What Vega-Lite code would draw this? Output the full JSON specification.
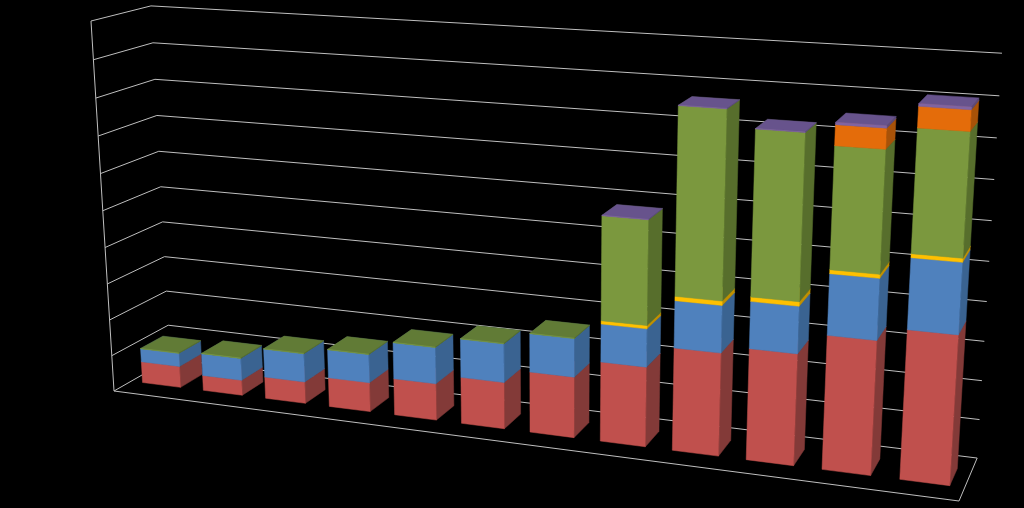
{"$schema":"https://vega.github.io/schema/vega-lite/v6.json","width":1024,"height":508,"padding":0,"autosize":{"type":"none"},"background":"#000000","config":{"view":{"stroke":null}},
"datasets":{
"frame":[
{"line":"g0","seq":0,"pos":0,"level":0,"depth":0},{"line":"g0","seq":1,"pos":0,"level":0,"depth":1},{"line":"g0","seq":2,"pos":12,"level":0,"depth":1},
{"line":"g1","seq":0,"pos":0,"level":10,"depth":0},{"line":"g1","seq":1,"pos":0,"level":10,"depth":1},{"line":"g1","seq":2,"pos":12,"level":10,"depth":1},
{"line":"g2","seq":0,"pos":0,"level":20,"depth":0},{"line":"g2","seq":1,"pos":0,"level":20,"depth":1},{"line":"g2","seq":2,"pos":12,"level":20,"depth":1},
{"line":"g3","seq":0,"pos":0,"level":30,"depth":0},{"line":"g3","seq":1,"pos":0,"level":30,"depth":1},{"line":"g3","seq":2,"pos":12,"level":30,"depth":1},
{"line":"g4","seq":0,"pos":0,"level":40,"depth":0},{"line":"g4","seq":1,"pos":0,"level":40,"depth":1},{"line":"g4","seq":2,"pos":12,"level":40,"depth":1},
{"line":"g5","seq":0,"pos":0,"level":50,"depth":0},{"line":"g5","seq":1,"pos":0,"level":50,"depth":1},{"line":"g5","seq":2,"pos":12,"level":50,"depth":1},
{"line":"g6","seq":0,"pos":0,"level":60,"depth":0},{"line":"g6","seq":1,"pos":0,"level":60,"depth":1},{"line":"g6","seq":2,"pos":12,"level":60,"depth":1},
{"line":"g7","seq":0,"pos":0,"level":70,"depth":0},{"line":"g7","seq":1,"pos":0,"level":70,"depth":1},{"line":"g7","seq":2,"pos":12,"level":70,"depth":1},
{"line":"g8","seq":0,"pos":0,"level":80,"depth":0},{"line":"g8","seq":1,"pos":0,"level":80,"depth":1},{"line":"g8","seq":2,"pos":12,"level":80,"depth":1},
{"line":"g9","seq":0,"pos":0,"level":90,"depth":0},{"line":"g9","seq":1,"pos":0,"level":90,"depth":1},{"line":"g9","seq":2,"pos":12,"level":90,"depth":1},
{"line":"g10","seq":0,"pos":0,"level":100,"depth":0},{"line":"g10","seq":1,"pos":0,"level":100,"depth":1},{"line":"g10","seq":2,"pos":12,"level":100,"depth":1},
{"line":"left","seq":0,"pos":0,"level":0,"depth":0},{"line":"left","seq":1,"pos":0,"level":100,"depth":0},
{"line":"floor","seq":0,"pos":0,"level":0,"depth":0},{"line":"floor","seq":1,"pos":12,"level":0,"depth":0},{"line":"floor","seq":2,"pos":12,"level":0,"depth":1}
],
"bars":[
{"cat":1,"series":"S1","value":5.96},{"cat":1,"series":"S2","value":3.71},{"cat":1,"series":"S4","value":0.1},
{"cat":2,"series":"S1","value":4.23},{"cat":2,"series":"S2","value":6.14},{"cat":2,"series":"S4","value":0.1},
{"cat":3,"series":"S1","value":5.96},{"cat":3,"series":"S2","value":7.81},{"cat":3,"series":"S4","value":0.1},
{"cat":4,"series":"S1","value":7.96},{"cat":4,"series":"S2","value":7.71},{"cat":4,"series":"S4","value":0.1},
{"cat":5,"series":"S1","value":9.89},{"cat":5,"series":"S2","value":9.78},{"cat":5,"series":"S4","value":0.1},
{"cat":6,"series":"S1","value":12.44},{"cat":6,"series":"S2","value":10.28},{"cat":6,"series":"S4","value":0.1},
{"cat":7,"series":"S1","value":16.07},{"cat":7,"series":"S2","value":10.1},{"cat":7,"series":"S4","value":0.1},
{"cat":8,"series":"S1","value":20.86},{"cat":8,"series":"S2","value":9.86},{"cat":8,"series":"S3","value":0.84},{"cat":8,"series":"S4","value":26.68},{"cat":8,"series":"S6","value":0.1},
{"cat":9,"series":"S1","value":26.59},{"cat":9,"series":"S2","value":12.04},{"cat":9,"series":"S3","value":1.09},{"cat":9,"series":"S4","value":46.92},{"cat":9,"series":"S6","value":0.1},
{"cat":10,"series":"S1","value":28.5},{"cat":10,"series":"S2","value":11.87},{"cat":10,"series":"S3","value":1.1},{"cat":10,"series":"S4","value":40.89},{"cat":10,"series":"S6","value":0.1},
{"cat":11,"series":"S1","value":33.9},{"cat":11,"series":"S2","value":15.18},{"cat":11,"series":"S3","value":0.97},{"cat":11,"series":"S4","value":29.7},{"cat":11,"series":"S5","value":4.93},{"cat":11,"series":"S6","value":0.55},
{"cat":12,"series":"S1","value":37.33},{"cat":12,"series":"S2","value":17.41},{"cat":12,"series":"S3","value":0.95},{"cat":12,"series":"S4","value":29.54},{"cat":12,"series":"S5","value":4.97},{"cat":12,"series":"S6","value":0.63}
]},
"layer":[
{"data":{"name":"frame"},
"transform":[
{"calculate":"datum.pos/12","as":"u"},{"calculate":"datum.level/100","as":"v"},{"calculate":"datum.depth","as":"d"},
{"calculate":"1-0.14*datum.u-0.05*datum.v+0.05*datum.d","as":"w"},
{"calculate":"(114+710.74*datum.u-27.55*datum.v+64.5*datum.d)/datum.w","as":"px"},
{"calculate":"(391+39.86*datum.u-371.05*datum.v-14.05*datum.d)/datum.w","as":"py"}
],
"mark":{"type":"line","stroke":"#BFBFBF","strokeWidth":1,"interpolate":"linear"},
"encoding":{
"x":{"field":"px","type":"quantitative","axis":null,"scale":{"domain":[0,1024],"range":[0,1024],"nice":false,"zero":false}},
"y":{"field":"py","type":"quantitative","axis":null,"scale":{"domain":[0,508],"range":[0,508],"nice":false,"zero":false}},
"detail":{"field":"line"},"order":{"field":"seq"}}},
{"data":{"name":"bars"},
"transform":[
{"stack":"value","groupby":["cat"],"sort":[{"field":"series","order":"ascending"}],"as":["v0","v1"]},
{"calculate":"[0,1,2,3,4,5,6,7,8,9,10,11]","as":"k"},
{"flatten":["k"]},
{"calculate":"floor(datum.k/4)","as":"face"},
{"calculate":"datum.k%4","as":"c"},
{"calculate":"(datum.cat-1+0.186)/12","as":"uL"},
{"calculate":"(datum.cat-1+0.814)/12","as":"uR"},
{"calculate":"datum.face==0?((datum.c==0||datum.c==3)?datum.uL:datum.uR):(datum.face==1?datum.uR:((datum.c==0||datum.c==3)?datum.uL:datum.uR))","as":"u"},
{"calculate":"datum.face==0?((datum.c<2)?0.7:0.3):(datum.face==1?((datum.c==1||datum.c==2)?0.7:0.3):0.3)","as":"d"},
{"calculate":"datum.face==0?datum.v1/100:((datum.c<2)?datum.v0/100:datum.v1/100)","as":"v"},
{"calculate":"1-0.14*datum.u-0.05*datum.v+0.05*datum.d","as":"w"},
{"calculate":"(114+710.74*datum.u-27.55*datum.v+64.5*datum.d)/datum.w","as":"px"},
{"calculate":"(391+39.86*datum.u-371.05*datum.v-14.05*datum.d)/datum.w","as":"py"},
{"calculate":"datum.series+'-'+datum.face","as":"fk"}
],
"mark":{"type":"line","interpolate":"linear-closed","strokeWidth":0.5,"filled":true},
"encoding":{
"x":{"field":"px","type":"quantitative","axis":null,"scale":{"domain":[0,1024],"range":[0,1024],"nice":false,"zero":false}},
"y":{"field":"py","type":"quantitative","axis":null,"scale":{"domain":[0,508],"range":[0,508],"nice":false,"zero":false}},
"fill":{"field":"fk","type":"nominal","legend":null,"scale":{
"domain":["S1-0","S1-1","S1-2","S2-0","S2-1","S2-2","S3-0","S3-1","S3-2","S4-0","S4-1","S4-2","S5-0","S5-1","S5-2","S6-0","S6-1","S6-2"],
"range":["#A34340","#833A38","#C0504D","#3F6797","#3A6391","#4F81BD","#CC9A00","#C09000","#FFC000","#617B36","#576E2C","#7B983E","#B5560A","#A85208","#E46C0A","#67538C","#5A4A7C","#8064A2"]}},
"stroke":{"field":"fk","type":"nominal","legend":null,"scale":{
"domain":["S1-0","S1-1","S1-2","S2-0","S2-1","S2-2","S3-0","S3-1","S3-2","S4-0","S4-1","S4-2","S5-0","S5-1","S5-2","S6-0","S6-1","S6-2"],
"range":["#A34340","#833A38","#C0504D","#3F6797","#3A6391","#4F81BD","#CC9A00","#C09000","#FFC000","#617B36","#576E2C","#7B983E","#B5560A","#A85208","#E46C0A","#67538C","#5A4A7C","#8064A2"]}},
"detail":{"field":"cat"},"order":{"field":"c"}}}
]}
